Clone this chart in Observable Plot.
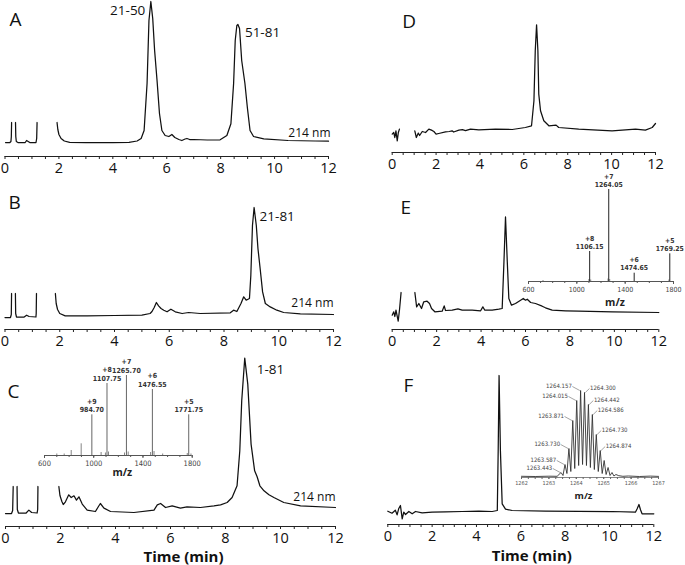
<!DOCTYPE html>
<html><head><meta charset="utf-8">
<script src="https://cdn.jsdelivr.net/npm/d3@7"></script>
<script src="https://cdn.jsdelivr.net/npm/@observablehq/plot@0.6"></script>
<style>
body{margin:0;background:#fff}
#fig{position:relative;width:685px;height:565px;overflow:hidden;font-family:'Open Sans',sans-serif;color:#111}
#fig svg{position:absolute}
</style>
</head><body><div id="fig"></div>
<script>
// ---------- time axis ----------
const majorTicks = [0, 2, 4, 6, 8, 10, 12];
const minorTicks = [0.5, 1, 1.5, 2.5, 3, 3.5, 4.5, 5, 5.5, 6.5, 7, 7.5, 8.5, 9, 9.5, 10.5, 11, 11.5];

// ---------- chromatograms: [time (min), absorbance (arb.)] ----------
const traceA1 = [[0.02,14],[0.18,14],[0.22,15],[0.235,20],[0.245,34]];
const traceA2 = [[0.39,34],[0.40,20],[0.42,15],[0.48,14],[0.75,14],[0.8,16],[0.86,15],[0.92,14],[1.15,14],[1.175,18],[1.19,34]];
const traceA3 = [[1.93,34],[1.96,27],[2.0,22],[2.08,18],[2.2,15.5],[2.4,14.2],[3,13.8],[4,13.8],[4.6,14.2],[4.9,15.5],[5.05,18],[5.16,26],[5.27,73],[5.34,136],[5.41,155],[5.48,138],[5.55,106],[5.64,76],[5.73,43],[5.82,26],[5.94,21],[6.08,20],[6.19,22],[6.3,19],[6.45,17],[6.56,16],[6.68,17.5],[6.75,18],[6.85,17],[7.0,17],[7.5,16.5],[7.98,16.7],[8.23,21],[8.38,32.7],[8.48,73],[8.54,116],[8.6,131],[8.64,132],[8.7,128],[8.78,96],[8.9,73],[8.99,49],[9.09,26],[9.22,20],[9.6,17.7],[10.5,16],[11.5,15.5],[12,15.3]];

const traceB1 = [[0.0,12],[0.2,12],[0.23,15],[0.24,36]];
const traceB2 = [[0.38,36],[0.39,16],[0.42,12.5],[0.7,12.5],[0.79,14.3],[0.88,13],[1.13,12.5],[1.14,16],[1.15,36]];
const traceB3 = [[1.84,36],[1.87,26],[1.92,20],[2.0,16],[2.2,13.7],[3,13.7],[4,14],[5.0,14.3],[5.3,16],[5.37,18],[5.45,22],[5.53,27],[5.61,23.7],[5.7,21],[5.8,19.3],[5.92,17.7],[6.06,20.3],[6.22,17.7],[6.47,16],[6.71,17],[7.13,16],[8.23,16.7],[8.35,19.3],[8.47,18],[8.62,26],[8.72,32.7],[8.81,29.3],[8.93,31],[8.98,54],[9.04,104],[9.1,122],[9.18,104],[9.24,81],[9.32,61],[9.41,37.6],[9.51,26],[9.69,22.6],[9.93,19.3],[10.18,17],[10.79,15.6],[12,15]];

const traceC1 = [[0,13],[0.22,13],[0.26,16],[0.28,40]];
const traceC2 = [[0.42,40],[0.43,17],[0.47,13.5],[0.75,13.5],[0.85,16.4],[0.95,14],[1.15,13.5],[1.17,17],[1.18,40]];
const traceC3 = [[1.94,40],[1.98,31],[2.05,25],[2.1,22],[2.18,24.7],[2.3,31.7],[2.39,29],[2.49,30.7],[2.58,26.4],[2.67,29.7],[2.79,22.4],[2.97,16.4],[3.27,15],[3.38,20],[3.45,23],[3.58,18.4],[3.82,15],[4.67,14],[5.4,16.4],[5.52,21.7],[5.64,23],[5.82,19],[6.06,20.7],[6.36,18.4],[6.6,19.7],[7.09,19],[7.58,20.7],[7.82,21.7],[8.06,24],[8.24,29],[8.42,40.7],[8.52,75.7],[8.59,125.7],[8.7,168.4],[8.81,142.4],[8.93,82.4],[9.06,55.7],[9.15,49.7],[9.25,40.7],[9.4,35.7],[9.58,31.7],[9.76,29],[10.12,24],[10.73,20.7],[12,19]];

const traceD1 = [[0,18.4],[0.07,20],[0.12,15],[0.17,21.7],[0.23,11.7],[0.28,20],[0.33,23.4]];
const traceD2 = [[1.03,21.7],[1.1,15],[1.19,19.4],[1.25,17],[1.37,21],[1.52,20],[1.67,23.4],[1.79,22.4],[1.9,21],[2.0,18.4],[2.12,19],[2.43,20.7],[2.6,21],[2.73,21.7],[2.8,20.5],[3.04,22.4],[3.2,22.8],[3.34,21.8],[3.57,23.4],[3.95,22.7],[4.71,23.4],[5.47,23],[6.07,25],[6.35,26.7],[6.46,51.7],[6.52,101.7],[6.58,127.7],[6.64,101.7],[6.68,58.4],[6.76,41.7],[6.91,31.7],[7.14,26.7],[7.47,27.4],[7.59,25],[8.5,23.4],[10.02,21.7],[11.09,23.4],[11.54,22.4],[11.85,25],[12,29]];

const traceE1 = [[0,14.3],[0.07,17.7],[0.12,13],[0.17,19.3],[0.27,8.3],[0.33,20],[0.4,37]];
const traceE2 = [[1.02,37],[1.1,22.6],[1.2,26],[1.32,21],[1.42,27.7],[1.57,28.3],[1.68,26],[1.77,21],[1.92,17.7],[2.25,18.3],[2.34,23.6],[2.4,19],[2.7,19.3],[2.96,20.7],[3.15,19.3],[3.6,19.3],[3.98,18.7],[4.08,22.6],[4.17,19.3],[4.5,19.3],[4.8,20.3],[4.95,21],[5.03,67.7],[5.1,112.6],[5.18,67.7],[5.25,31],[5.37,24.3],[5.55,26],[5.78,29.3],[5.9,31],[6.0,29.3],[6.08,30.3],[6.23,27],[6.45,26],[6.75,23.3],[6.9,21.7],[7.2,19.3],[7.8,18.7],[8.4,18.3],[9.91,17.7],[12,17]];

const traceF1 = [[0,13.3],[0.19,11.3],[0.34,14.3],[0.42,9.7],[0.49,15.7],[0.57,19],[0.65,5.7],[0.72,12.3],[0.8,10],[0.95,13],[1.1,10.7],[1.25,13],[1.55,11.7],[2.0,12.3],[2.6,12.7],[3.36,13],[4.11,13.3],[4.71,13],[4.94,14],[4.98,74],[5.02,149],[5.08,74],[5.16,20.7],[5.31,15.3],[5.61,14],[7.11,13.3],[10.12,13],[11.17,12.3],[11.25,15.7],[11.33,20],[11.4,14.7],[11.47,10.7],[12,10.7]];

// ---------- MS inset (C) ----------
const msC_mz = [984.70, 1107.75, 1265.70, 1476.55, 1771.75];
const msC_charge = [9, 8, 7, 6, 5];
const msC_int = [40.7, 72, 80, 66, 40.7];
const msC_minorMz = [700, 760, 817, 898, 1060, 1095, 1120, 1250, 1280, 1462, 1490, 1560, 1760, 1790];
const msC_minorInt = [1.5, 1.5, 5, 11.7, 3, 2.5, 3.5, 2.5, 3.5, 3, 4, 1.5, 2, 1.5];

// ---------- MS inset (E) ----------
const msE_mz = [1106.15, 1264.05, 1474.65, 1769.25];
const msE_charge = [8, 7, 6, 5];
const msE_int = [30, 92, 8.3, 27.7];
const msE_minorMz = [720, 1100, 1115, 1258, 1272, 1762];
const msE_minorInt = [1, 2, 1.5, 2.5, 2, 1.5];

// ---------- isotope envelope inset (F) ----------
const isoMz = [1263.443, 1263.587, 1263.730, 1263.871, 1264.015, 1264.157, 1264.300, 1264.442, 1264.586, 1264.730, 1264.874, 1265.017, 1265.160, 1265.303, 1265.446];
const isoInt = [5, 13, 29, 57, 77, 87, 85, 73, 63, 43, 27, 17, 10, 5, 3];
const isoLabelled = [1263.443, 1263.587, 1263.730, 1263.871, 1264.015, 1264.157, 1264.300, 1264.442, 1264.586, 1264.730, 1264.874];
const valleyMz = [1263.515, 1263.658, 1263.800, 1263.943, 1264.086, 1264.228, 1264.371, 1264.514, 1264.658, 1264.802, 1264.945, 1265.088, 1265.231, 1265.374];
const valleyInt = [2, 4, 6, 9, 12, 13, 12, 10, 8, 6, 4, 3, 2, 1.5];
const baseMzLeft = [1262.0, 1262.5, 1263.0, 1263.3];
const baseIntLeft = [1.2, 1.0, 1.3, 1.2];
const baseMzRight = [1265.55, 1265.7, 1265.9, 1266.3, 1266.7, 1267.0];
const baseIntRight = [1.8, 1.2, 1.5, 1.0, 1.4, 1.1];

// ---------- helpers ----------
const fig = document.getElementById("fig");
const FONT = "'Open Sans', sans-serif";
const NARROW = "'Liberation Sans Narrow', 'DejaVu Sans Condensed', 'Open Sans', sans-serif";
function place(svg, left, top) {
  svg.style.left = left + "px";
  svg.style.top = top + "px";
  fig.appendChild(svg);
}
const toObj = segs => segs.flatMap((s, i) => s.map(([t, v]) => ({t, v, seg: i})));
function apex(data, t0, t1) {
  return d3.greatest(data.filter(d => d.t >= t0 && d.t <= t1), d => d.v);
}

function mainPanel(o) {
  const data = toObj(o.segs);
  const svgW = o.width;
  const marks = [
    Plot.ruleY([0], {stroke: "#222", strokeWidth: 1}),
    Plot.axisX(minorTicks, {tickSize: 3, tickFormat: () => "", label: null, stroke: "#222"}),
    Plot.axisX(majorTicks, {tickSize: 3, tickPadding: 3, fontSize: 14.5, label: null, tickFormat: d => String(d), stroke: "#222", fill: "#111"}),
    Plot.line(data, {x: "t", y: "v", z: "seg", stroke: "#111", strokeWidth: 1.25, strokeLinejoin: "round"}),
    Plot.text([o.letter], {text: d => d, frameAnchor: "top-left", textAnchor: "start", lineAnchor: "top", dx: o.letterDx, dy: o.letterDy, fontSize: 19, fill: "#111"})
  ];
  for (const p of (o.peaks || [])) {
    marks.push(Plot.text([apex(data, p.t0, p.t1)], {x: "t", y: "v", text: () => p.label, textAnchor: p.anchor, lineAnchor: "top", dx: p.dx, dy: p.dy, fontSize: 13.5, fill: "#111"}));
  }
  if (o.nm) marks.push(Plot.text(["214 nm"], {text: d => d, frameAnchor: "bottom-right", textAnchor: "end", lineAnchor: "top", dx: o.nm.dx, dy: o.nm.dy, fontSize: 12, fill: "#111"}));
  if (o.time) marks.push(Plot.text(["Time (min)"], {text: d => d, frameAnchor: "bottom", lineAnchor: "top", dx: o.time.dx, dy: o.time.dy, fontSize: 15, fontWeight: "bold", fill: "#111"}));
  const svg = Plot.plot({
    width: svgW, height: o.innerH + o.bottom,
    marginLeft: o.x0 - o.left, marginRight: svgW - (o.x12 - o.left), marginTop: 0, marginBottom: o.bottom,
    x: {domain: [0, 12], axis: null, label: null},
    y: {domain: [0, o.innerH], axis: null, label: null},
    style: {background: "transparent", overflow: "visible", fontFamily: FONT, color: "#111"},
    marks
  });
  place(svg, o.left, o.axisY - o.innerH);
}

// ---------- main panels ----------
mainPanel({letter: "A", segs: [traceA1, traceA2, traceA3], left: 0, width: 345, x0: 4.5, x12: 328, axisY: 156, innerH: 156, bottom: 25,
  letterDx: 4.5, letterDy: 12,
  peaks: [{t0: 5, t1: 6, label: "21-50", anchor: "end", dx: -5.5, dy: 4}, {t0: 8, t1: 9.5, label: "51-81", anchor: "start", dx: 7, dy: 3}],
  nm: {dx: 2, dy: -28}});
mainPanel({letter: "B", segs: [traceB1, traceB2, traceB3], left: 0, width: 345, x0: 4.5, x12: 333, axisY: 329.3, innerH: 150, bottom: 25,
  letterDx: 3.5, letterDy: 16,
  peaks: [{t0: 8.5, t1: 9.8, label: "21-81", anchor: "start", dx: 5.5, dy: 4}],
  nm: {dx: 0, dy: -31}});
mainPanel({letter: "C", segs: [traceC1, traceC2, traceC3], left: 0, width: 345, x0: 5, x12: 335, axisY: 525.7, innerH: 172, bottom: 42,
  letterDx: 2, letterDy: 29.6,
  peaks: [{t0: 8, t1: 9.5, label: "1-81", anchor: "start", dx: 12, dy: 6}],
  nm: {dx: 0, dy: -34}, time: {dx: 13, dy: 24.5}});
mainPanel({letter: "D", segs: [traceD1, traceD2], left: 345, width: 340, x0: 391.7, x12: 655, axisY: 151.7, innerH: 150, bottom: 25,
  letterDx: 10, letterDy: 11.6});
mainPanel({letter: "E", segs: [traceE1, traceE2], left: 345, width: 340, x0: 391.7, x12: 658.3, axisY: 329.3, innerH: 150, bottom: 25,
  letterDx: 8.3, letterDy: 20.7});
mainPanel({letter: "F", segs: [traceF1], left: 345, width: 340, x0: 387.3, x12: 653.3, axisY: 524, innerH: 170, bottom: 42,
  letterDx: 15.7, letterDy: 24.3, time: {dx: 11, dy: 25.5}});

// ---------- MS stick insets ----------
function msInset(o) {
  const peaks = o.mz.map((mz, i) => ({mz, z: o.charge[i], int: o.int[i]}));
  const minor = o.minorMz.map((mz, i) => ({mz, int: o.minorInt[i]}));
  const svg = Plot.plot({
    width: o.width, height: o.innerH + o.bottom,
    marginLeft: o.x0 - o.left, marginRight: o.width - (o.x1 - o.left), marginTop: 0, marginBottom: o.bottom,
    x: {domain: [600, 1800], axis: null, label: null},
    y: {domain: [0, o.innerH], axis: null, label: null},
    style: {background: "transparent", overflow: "visible", fontFamily: NARROW, color: "#333"},
    marks: [
      Plot.ruleY([0], {stroke: "#555", strokeWidth: 1}),
      Plot.axisX(d3.range(600, 1801, 100), {tickSize: 2, tickFormat: () => "", label: null, stroke: "#555"}),
      Plot.axisX([600, 1000, 1400, 1800], {tickSize: 3, tickPadding: o.tickPad, fontSize: o.tickFont, label: null, tickFormat: d => String(d), stroke: "#555", fill: "#444"}),
      Plot.ruleX(minor, {x: "mz", y1: 0, y2: "int", stroke: "#666", strokeWidth: 0.8}),
      Plot.ruleX(peaks, {x: "mz", y1: 0, y2: "int", stroke: o.stick, strokeWidth: 1}),
      Plot.text(peaks, {x: "mz", y: "int", text: d => `+${d.z}\n${d.mz.toFixed(2)}`, lineAnchor: "bottom", dy: -3, fontSize: o.labFont, fontWeight: "bold", lineHeight: 1.15, fill: "#333"}),
      Plot.text(["m/z"], {text: d => d, frameAnchor: "bottom", lineAnchor: "top", dx: o.mzDx, dy: o.mzDy, fontSize: 10.5, fontWeight: "bold", fill: "#222", fontFamily: FONT})
    ]
  });
  place(svg, o.left, o.baseY - o.innerH);
}
msInset({mz: msC_mz, charge: msC_charge, int: msC_int, minorMz: msC_minorMz, minorInt: msC_minorInt,
  left: 0, width: 210, x0: 44, x1: 191.7, baseY: 455, innerH: 100, bottom: 25, tickPad: 2, tickFont: 7.5, labFont: 7, mzDx: 4, mzDy: 13, stick: "#666"});
msInset({mz: msE_mz, charge: msE_charge, int: msE_int, minorMz: msE_minorMz, minorInt: msE_minorInt,
  left: 500, width: 180, x0: 528, x1: 673, baseY: 281, innerH: 111, bottom: 34, tickPad: 3, tickFont: 7, labFont: 6.8, mzDx: 14, mzDy: 17.5, stick: "#222"});

// ---------- isotope envelope inset (F) ----------
{
  const profile = [
    ...baseMzLeft.map((mz, i) => ({mz, v: baseIntLeft[i]})),
    ...isoMz.map((mz, i) => ({mz, v: isoInt[i]})),
    ...valleyMz.map((mz, i) => ({mz, v: valleyInt[i]})),
    ...baseMzRight.map((mz, i) => ({mz, v: baseIntRight[i]}))
  ].sort((a, b) => a.mz - b.mz);
  const labs = isoLabelled.map(mz => ({mz, v: isoInt[isoMz.indexOf(mz)], left: mz < 1264.2}));
  const L = labs.filter(d => d.left), R = labs.filter(d => !d.left);
  const left = 500, width = 185, x0 = 521, x1 = 658, baseY = 477, innerH = 117;
  const svg = Plot.plot({
    width, height: innerH + 28,
    marginLeft: x0 - left, marginRight: width - (x1 - left), marginTop: 0, marginBottom: 28,
    x: {domain: [1262, 1267], axis: null, label: null},
    y: {domain: [0, innerH], axis: null, label: null},
    style: {background: "transparent", overflow: "visible", fontFamily: NARROW, color: "#333"},
    marks: [
      Plot.ruleY([0], {stroke: "#666", strokeWidth: 0.8}),
      Plot.axisX(d3.range(1262, 1267.01, 0.25), {tickSize: 2, tickFormat: () => "", label: null, stroke: "#666"}),
      Plot.axisX([1262, 1263, 1264, 1265, 1266, 1267], {tickSize: 2, tickPadding: 2, fontSize: 5.5, label: null, tickFormat: d => String(d), stroke: "#666", fill: "#555"}),
      Plot.line(profile, {x: "mz", y: "v", stroke: "#333", strokeWidth: 0.9}),
      Plot.link(L, {x1: d => d.mz - 0.03, y1: d => d.v, x2: d => d.mz - 0.3, y2: d => d.v + 4, stroke: "#666", strokeWidth: 0.6}),
      Plot.link(R, {x1: d => d.mz + 0.03, y1: d => d.v, x2: d => d.mz + 0.18, y2: d => d.v + 4, stroke: "#666", strokeWidth: 0.6}),
      Plot.text(L, {x: d => d.mz - 0.32, y: d => d.v + 4, text: d => d.mz.toFixed(3), textAnchor: "end", fontSize: 6, fill: "#444"}),
      Plot.text(R, {x: d => d.mz + 0.2, y: d => d.v + 4, text: d => d.mz.toFixed(3), textAnchor: "start", fontSize: 6, fill: "#444"}),
      Plot.text(["m/z"], {text: d => d, frameAnchor: "bottom", lineAnchor: "top", dx: -6.5, dy: 15, fontSize: 9.5, fontWeight: "bold", fill: "#222", fontFamily: FONT})
    ]
  });
  place(svg, left, baseY - innerH);
}
</script></body></html>
